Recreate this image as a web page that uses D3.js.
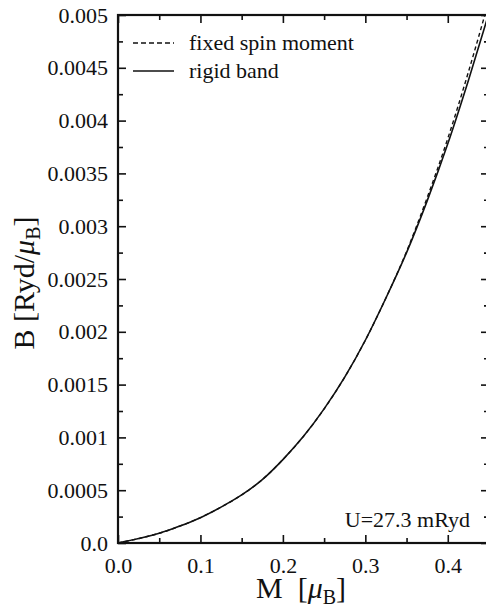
<!DOCTYPE html>
<html>
<head>
<meta charset="utf-8">
<script src="https://cdn.jsdelivr.net/npm/d3@7"></script>
<style>
  body { margin: 0; background: #fff; }
  svg { display: block; font-family: "Liberation Serif", "DejaVu Serif", serif; }
</style>
</head>
<body>
<svg id="chart" width="486" height="609"></svg>
<script>
// values
var magMoment = [0, 0.025, 0.05, 0.075, 0.1, 0.125, 0.15, 0.175, 0.2, 0.225, 0.25,
                 0.275, 0.3, 0.325, 0.35, 0.375, 0.4, 0.425, 0.45];
var rigidBand = [0, 0.000042, 0.000092, 0.00016, 0.00024, 0.00034, 0.000455, 0.0006,
                 0.00079, 0.00101, 0.00127, 0.00157, 0.00192, 0.00232, 0.00275, 0.00324,
                 0.00378, 0.00438, 0.00502];
var fixedSpin = [0, 0.000042, 0.000092, 0.00016, 0.00024, 0.00034, 0.000455, 0.0006,
                 0.00079, 0.00101, 0.00127, 0.00157, 0.00192, 0.00232, 0.00276, 0.00327,
                 0.00383, 0.00446, 0.00514];

var xTicks = [0, 0.1, 0.2, 0.3, 0.4];
var xTickLabels = ["0.0", "0.1", "0.2", "0.3", "0.4"];
var xMinor = [0.05, 0.15, 0.25, 0.35, 0.45];
var yTicks = [0, 0.0005, 0.001, 0.0015, 0.002, 0.0025, 0.003, 0.0035, 0.004, 0.0045, 0.005];
var yTickLabels = ["0.0", "0.0005", "0.001", "0.0015", "0.002", "0.0025", "0.003",
                   "0.0035", "0.004", "0.0045", "0.005"];
var yMinor = [0.00025, 0.00075, 0.00125, 0.00175, 0.00225, 0.00275, 0.00325,
              0.00375, 0.00425, 0.00475];

var svg = d3.select("#chart");
var marginLeft = 118, marginTop = 15, plotW = 371, plotH = 528;
var serif = "'Liberation Serif', 'DejaVu Serif', serif";

var x = d3.scaleLinear().domain([0, 0.45]).range([0, plotW]);
var y = d3.scaleLinear().domain([0, 0.005]).range([plotH, 0]);

var g = svg.append("g").attr("transform", "translate(" + marginLeft + "," + marginTop + ")");

// clip for curves
svg.append("defs").append("clipPath").attr("id", "plotclip")
  .append("rect").attr("width", plotW).attr("height", plotH);

function styleAxis(sel) {
  sel.attr("font-family", serif).attr("font-size", 22);
  sel.select(".domain").remove();
  sel.selectAll(".tick line").attr("stroke", "#111").attr("stroke-width", 1.6);
  sel.selectAll(".tick text").attr("fill", "#111");
}

// major ticks with labels
g.append("g").attr("transform", "translate(0," + plotH + ")")
  .call(d3.axisBottom(x).tickValues(xTicks).tickSizeInner(-8).tickSizeOuter(0).tickPadding(14)
    .tickFormat(function(d, i) { return xTickLabels[i]; }))
  .call(styleAxis);
g.append("g")
  .call(d3.axisLeft(y).tickValues(yTicks).tickSizeInner(-8).tickSizeOuter(0).tickPadding(10)
    .tickFormat(function(d, i) { return yTickLabels[i]; }))
  .call(styleAxis);
g.append("g")
  .call(d3.axisTop(x).tickValues(xTicks).tickSizeInner(-8).tickSizeOuter(0).tickFormat(""))
  .call(styleAxis);
g.append("g").attr("transform", "translate(" + plotW + ",0)")
  .call(d3.axisRight(y).tickValues(yTicks).tickSizeInner(-8).tickSizeOuter(0).tickFormat(""))
  .call(styleAxis);

// minor ticks
g.append("g").attr("transform", "translate(0," + plotH + ")")
  .call(d3.axisBottom(x).tickValues(xMinor).tickSizeInner(-5).tickSizeOuter(0).tickFormat(""))
  .call(styleAxis);
g.append("g")
  .call(d3.axisTop(x).tickValues(xMinor).tickSizeInner(-5).tickSizeOuter(0).tickFormat(""))
  .call(styleAxis);
g.append("g")
  .call(d3.axisLeft(y).tickValues(yMinor).tickSizeInner(-5).tickSizeOuter(0).tickFormat(""))
  .call(styleAxis);
g.append("g").attr("transform", "translate(" + plotW + ",0)")
  .call(d3.axisRight(y).tickValues(yMinor).tickSizeInner(-5).tickSizeOuter(0).tickFormat(""))
  .call(styleAxis);

// frame
g.append("rect").attr("width", plotW).attr("height", plotH)
  .attr("fill", "none").attr("stroke", "#111").attr("stroke-width", 2.2);

// curves
var line = d3.line().curve(d3.curveMonotoneX)
  .x(function(d, i) { return x(magMoment[i]); })
  .y(function(d) { return y(d); });

var curves = g.append("g").attr("clip-path", "url(#plotclip)");
curves.append("path").datum(fixedSpin).attr("d", line)
  .attr("fill", "none").attr("stroke", "#111").attr("stroke-width", 1.4)
  .attr("stroke-dasharray", "4,3");
curves.append("path").datum(rigidBand).attr("d", line)
  .attr("fill", "none").attr("stroke", "#111").attr("stroke-width", 1.6);

// legend
var legend = [
  { label: "fixed spin moment", dash: "5,3", y: 43 },
  { label: "rigid band", dash: null, y: 71 }
];
legend.forEach(function(d) {
  svg.append("line").attr("x1", 133).attr("x2", 174).attr("y1", d.y).attr("y2", d.y)
    .attr("stroke", "#111").attr("stroke-width", 1.6)
    .attr("stroke-dasharray", d.dash);
  svg.append("text").attr("x", 189).attr("y", d.y + 7)
    .attr("font-size", 22).attr("fill", "#111").text(d.label);
});

// annotation
svg.append("text").attr("x", 470).attr("y", 527).attr("text-anchor", "end")
  .attr("font-size", 22).attr("fill", "#111").text("U=27.3 mRyd");

// x axis label
var xl = svg.append("text").attr("x", 301).attr("y", 598).attr("text-anchor", "middle")
  .attr("font-size", 30).attr("fill", "#111");
xl.append("tspan").text("M\u00a0\u00a0[");
xl.append("tspan").attr("font-style", "italic").text("\u03bc");
xl.append("tspan").attr("font-size", 20).attr("dy", 6).text("B");
xl.append("tspan").attr("dy", -6).text("]");

// y axis label
var yl = svg.append("text").attr("transform", "translate(34,283) rotate(-90)")
  .attr("text-anchor", "middle").attr("font-size", 30).attr("fill", "#111");
yl.append("tspan").text("B\u00a0[Ryd/");
yl.append("tspan").attr("font-style", "italic").text("\u03bc");
yl.append("tspan").attr("font-size", 20).attr("dy", 6).text("B");
yl.append("tspan").attr("dy", -6).text("]");
</script>
</body>
</html>
